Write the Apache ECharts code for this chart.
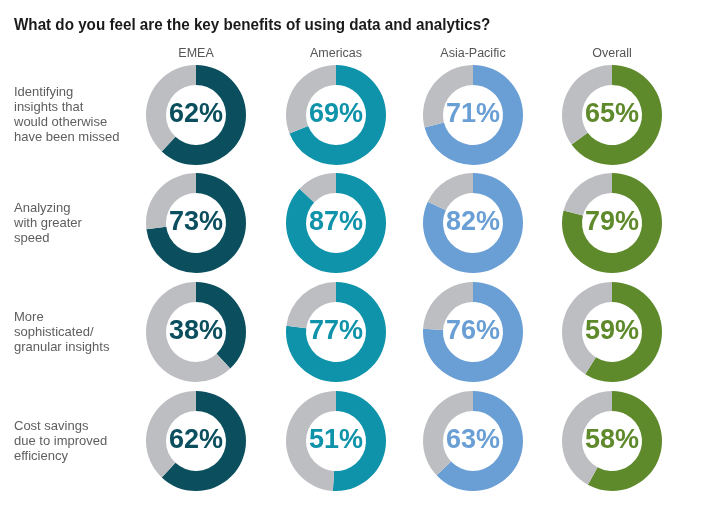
<!DOCTYPE html>
<html>
<head>
<meta charset="utf-8">
<script src="https://cdn.jsdelivr.net/npm/echarts@6/dist/echarts.min.js"></script>
<style>
html,body{margin:0;padding:0;background:#fff;}
#chart{width:705px;height:516px;}
</style>
</head>
<body>
<div id="chart"></div>
<script>
var title = 'What do you feel are the key benefits of using data and analytics?';
var regions = ['EMEA', 'Americas', 'Asia-Pacific', 'Overall'];
var benefits = [
  'Identifying\ninsights that\nwould otherwise\nhave been missed',
  'Analyzing\nwith greater\nspeed',
  'More\nsophisticated/\ngranular insights',
  'Cost savings\ndue to improved\nefficiency'
];
var emea = [62, 73, 38, 62];
var americas = [69, 87, 77, 51];
var asiaPacific = [71, 82, 76, 63];
var overall = [65, 79, 59, 58];

var values = [emea, americas, asiaPacific, overall];
var colors = ['#0b4f5e', '#0f93aa', '#6a9fd5', '#5f8a2c'];
var grey = '#bdbec2';
var colX = [196, 336, 473, 612];
var rowY = [115, 223, 332, 441];

var series = [];
values.forEach(function (arr, c) {
  arr.forEach(function (v, r) {
    series.push({
      type: 'pie',
      center: [colX[c], rowY[r]],
      radius: [30, 50],
      startAngle: 90,
      clockwise: true,
      silent: true,
      animation: false,
      labelLine: { show: false },
      data: [
        {
          value: v,
          itemStyle: { color: colors[c] },
          label: {
            show: true,
            position: 'center',
            formatter: v + '%',
            fontFamily: 'Liberation Sans, Arial, sans-serif',
            fontWeight: 'bold',
            fontSize: 27,
            color: colors[c]
          }
        },
        {
          value: 100 - v,
          itemStyle: { color: grey },
          label: { show: false }
        }
      ]
    });
  });
});

var graphics = [];
graphics.push({
  type: 'text',
  x: 14,
  y: 26,
  scaleX: 0.95,
  style: {
    text: title,
    textAlign: 'left',
    textVerticalAlign: 'middle',
    fontFamily: '"Liberation Sans", Arial, sans-serif',
    fontWeight: 'bold',
    fontSize: 16,
    fill: '#1a1a1a'
  }
});
regions.forEach(function (name, c) {
  graphics.push({
    type: 'text',
    x: colX[c],
    y: 54,
    style: {
      text: name,
      textAlign: 'center',
      textVerticalAlign: 'middle',
      fontFamily: '"Liberation Sans", Arial, sans-serif',
      fontSize: 12.5,
      fill: '#555555'
    }
  });
});
benefits.forEach(function (txt, r) {
  graphics.push({
    type: 'text',
    x: 14,
    y: rowY[r],
    style: {
      text: txt,
      textAlign: 'left',
      textVerticalAlign: 'middle',
      fontFamily: '"Liberation Sans", Arial, sans-serif',
      fontSize: 13,
      lineHeight: 15,
      fill: '#5e5e5e'
    }
  });
});

var chart = echarts.init(document.getElementById('chart'), null, { renderer: 'canvas' });
chart.setOption({
  backgroundColor: '#ffffff',
  animation: false,
  series: series,
  graphic: graphics
});
</script>
</body>
</html>
